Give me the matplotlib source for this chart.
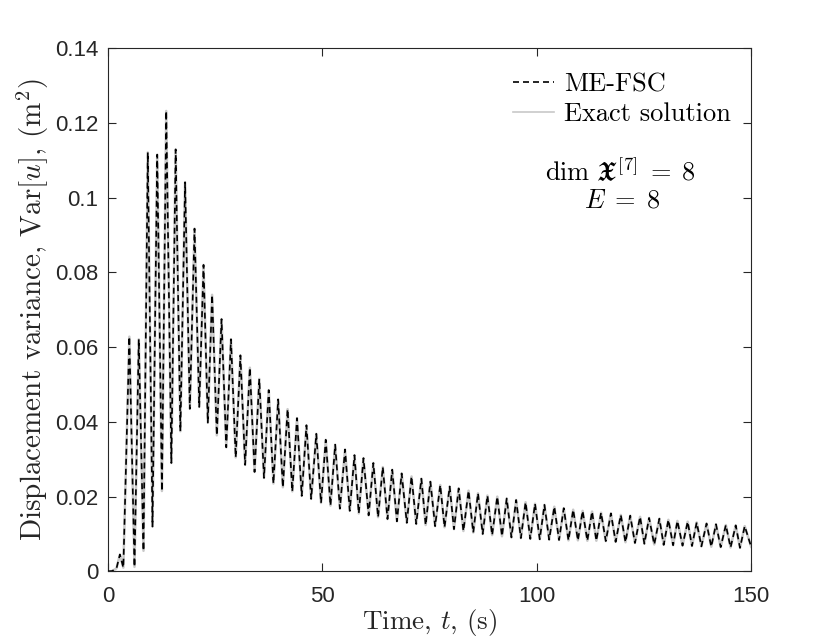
import numpy as np
import matplotlib
matplotlib.use("Agg")
import matplotlib.pyplot as plt
from matplotlib.lines import Line2D

# ---- data (local extrema of the variance curve) ----
start_t = [0.0, 1.0, 2.0, 2.8, 3.6]
start_v = [0.0, 0.0001, 0.0008, 0.0045, 0.0010]

peak_t = [5.0, 7.2, 9.3, 11.5, 13.6, 15.8, 18.0, 20.2, 22.3, 24.3,
          26.5, 28.7, 30.9, 33.1, 35.3, 37.5, 39.7, 41.9, 44.1, 46.3,
          48.6, 50.8, 53.0, 55.3, 57.5, 59.6, 61.9, 64.1, 66.3, 68.5,
          70.8, 73.1, 75.2, 77.5, 79.7, 81.8, 84.1, 86.3, 88.5, 90.8,
          93.0, 95.2, 97.4, 99.6, 101.8, 104.1, 106.3, 108.5, 110.7, 112.9,
          115.0, 117.3, 119.6, 121.8, 124.1, 126.2, 128.6, 130.7, 132.8, 135.2,
          137.3, 139.6, 141.8, 144.1, 146.4, 148.5]
peak_v = [0.0628, 0.0621, 0.1121, 0.1115, 0.1232, 0.1129, 0.1041, 0.0917, 0.0820, 0.0740,
          0.0675, 0.0621, 0.0578, 0.0545, 0.0515, 0.0485, 0.0460, 0.0434, 0.0410, 0.0391,
          0.0368, 0.0352, 0.0339, 0.0326, 0.0311, 0.0303, 0.0290, 0.0279, 0.0272, 0.0262,
          0.0254, 0.0248, 0.0240, 0.0231, 0.0227, 0.0222, 0.0216, 0.0209, 0.0203, 0.0200,
          0.0195, 0.0191, 0.0185, 0.0181, 0.0178, 0.0173, 0.0169, 0.0165, 0.0162, 0.0160,
          0.0157, 0.0155, 0.0151, 0.0149, 0.0146, 0.0143, 0.0141, 0.0138, 0.0135, 0.0133,
          0.0131, 0.0128, 0.0126, 0.0124, 0.0123, 0.0121]

trough_t = [6.2, 8.3, 10.4, 12.6, 14.8, 16.9, 19.1, 21.3, 23.3, 25.4,
            27.6, 29.8, 32.0, 34.2, 36.4, 38.6, 40.8, 43.0, 45.2, 47.4,
            49.7, 51.9, 54.1, 56.4, 58.5, 60.8, 63.0, 65.2, 67.4, 69.7,
            71.9, 74.1, 76.3, 78.5, 80.7, 82.9, 85.2, 87.4, 89.6, 91.9,
            94.1, 96.3, 98.5, 100.7, 102.9, 105.2, 107.4, 109.6, 111.8, 113.9,
            116.1, 118.4, 120.7, 122.9, 125.1, 127.4, 129.6, 131.8, 134.0, 136.2,
            138.4, 140.7, 142.9, 145.2, 147.4]
trough_v = [0.0012, 0.0055, 0.0120, 0.0215, 0.0290, 0.0375, 0.0435, 0.0440, 0.0398, 0.0364,
            0.0332, 0.0305, 0.0285, 0.0266, 0.0250, 0.0235, 0.0225, 0.0214, 0.0202, 0.0194,
            0.0183, 0.0176, 0.0168, 0.0162, 0.0155, 0.0150, 0.0145, 0.0140, 0.0134, 0.0130,
            0.0127, 0.0124, 0.0121, 0.0118, 0.0113, 0.0108, 0.0104, 0.0100, 0.0097, 0.0094,
            0.0091, 0.0089, 0.0087, 0.0086, 0.0085, 0.0084, 0.0083, 0.0083, 0.0082, 0.0082,
            0.0081, 0.0079, 0.0078, 0.0076, 0.0074, 0.0072, 0.0071, 0.0070, 0.0069, 0.0068,
            0.0067, 0.0066, 0.0065, 0.0064, 0.0063]

end_t = [150.0]
end_v = [0.0066]

x_ticks = [0, 50, 100, 150]
y_ticks = [0, 0.02, 0.04, 0.06, 0.08, 0.1, 0.12, 0.14]
y_tick_labels = ["0", "0.02", "0.04", "0.06", "0.08", "0.1", "0.12", "0.14"]

# ---- assemble curve ----
t_all = np.array(start_t + peak_t + trough_t + end_t)
v_all = np.array(start_v + peak_v + trough_v + end_v)
order = np.argsort(t_all)
t_all = t_all[order]
v_all = v_all[order]

plt.rcParams['mathtext.fontset'] = 'cm'
plt.rcParams['axes.formatter.use_mathtext'] = True

fig = plt.figure(figsize=(8.30, 6.42), dpi=100)
ax = fig.add_axes([0.13, 0.11, 0.775, 0.815])

axcol = '#262626'
ax.plot(t_all, v_all, color='#c8c8c8', lw=1.8, solid_joinstyle='round', zorder=2)
ax.plot(t_all, v_all, color='black', lw=1.2, linestyle=(0, (3.6, 2.4)), zorder=3)

ax.set_xlim(0, 150)
ax.set_ylim(0, 0.14)
ax.set_xticks(x_ticks)
ax.set_xticklabels([str(v) for v in x_ticks])
ax.set_yticks(y_ticks)
ax.set_yticklabels(y_tick_labels)

for sp in ax.spines.values():
    sp.set_color(axcol)
    sp.set_linewidth(0.8)
ax.tick_params(direction='in', length=6, width=0.8, colors=axcol,
               top=True, right=True, labelsize=16)
ax.tick_params(axis='x', pad=10.5)
ax.tick_params(axis='y', pad=7)
for lab in ax.get_xticklabels() + ax.get_yticklabels():
    lab.set_fontfamily('Liberation Sans')

ax.set_xlabel(r'Time, $t$, (s)', fontfamily='cmr10', fontsize=19.5, color=axcol, labelpad=0)
ax.set_ylabel(r'Displacement variance, Var$[u]$, (m$^2$)', fontfamily='cmr10',
              fontsize=21, color=axcol, labelpad=3)

handles = [Line2D([], [], color='black', lw=1.2, linestyle=(0, (3.6, 2.4))),
           Line2D([], [], color='#c8c8c8', lw=1.2)]
leg = ax.legend(handles, ['ME-FSC', 'Exact solution'], loc='upper right',
                bbox_to_anchor=(0.969, 0.953), frameon=False, borderpad=0,
                borderaxespad=0, handlelength=1.55, handletextpad=0.38,
                labelspacing=0.22, prop={'family': 'cmr10', 'size': 19})

ax.text(0.797, 0.763, r'$\dim\,\mathfrak{X}^{[7]}\;=\;8$', transform=ax.transAxes,
        ha='center', va='center', fontsize=19, color='black')
ax.text(0.800, 0.708, r'$E\;=\;8$', transform=ax.transAxes,
        ha='center', va='center', fontsize=19, color='black')

fig.savefig('out.png', dpi=100)
